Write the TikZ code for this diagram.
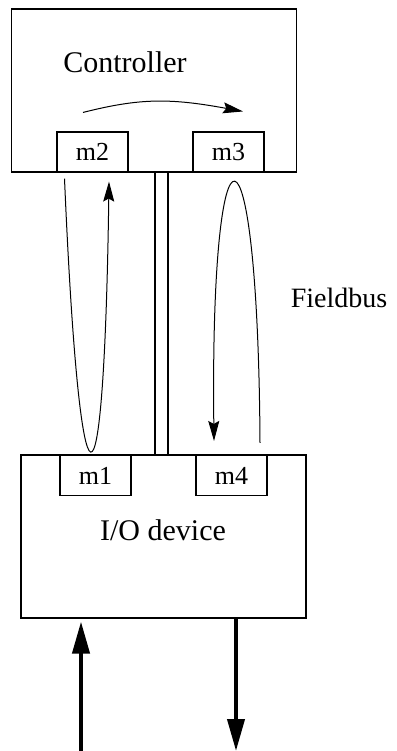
\documentclass[tikz,border=0pt]{standalone}
\usepackage{fontspec}
\setmainfont{Liberation Serif}
\usetikzlibrary{arrows.meta,calc}
\tikzset{>=Stealth}

\begin{document}
\begin{tikzpicture}[x=1pt,y=-1pt]
  \tikzset{
    unitbox/.style={rectangle, draw, line width=1.1pt,
      minimum width=285pt, minimum height=163pt},
    msgbox/.style={rectangle, draw, line width=1.1pt,
      minimum width=71pt, minimum height=40pt,
      font=\fontsize{26}{30}\selectfont},
    lbl/.style={font=\fontsize{30}{36}\selectfont},
    flow/.style={line width=1pt, -{Stealth[length=20pt,width=11pt,inset=3pt]}},
    signal/.style={line width=4pt, -{Triangle[length=32pt,width=17pt]}}
  }
  \useasboundingbox (0,0) rectangle (396,751);

  % controller and I/O device
  \node[unitbox] (ctrl) at (154,90.5) {};
  \node[unitbox] (io) at (163.5,536.5) {};
  \node[lbl] (ctrltext) at (125,62) {Controller};
  \node[lbl] (iotext) at (163,530) {I/O device};

  % message buffers
  \node[msgbox] (m2) at (92.5,152) {m2};
  \node[msgbox] (m3) at (228.5,152) {m3};
  \node[msgbox] (m1) at (95.5,475.5) {m1};
  \node[msgbox] (m4) at (231.5,475.5) {m4};

  % fieldbus
  \coordinate (busl) at (155,300);
  \coordinate (busr) at (168,300);
  \draw[line width=1.1pt] (ctrl.south -| busl) -- (io.north -| busl);
  \draw[line width=1.1pt] (ctrl.south -| busr) -- (io.north -| busr);
  \node[lbl, font=\fontsize{28}{34}\selectfont] (bustext) at (339,298) {Fieldbus};

  % message flow
  \draw[flow] ($(m2.south)+(-28,6)$) .. controls (80,540) and (104,540)
    .. ($(m2.south)+(16.5,9)$);
  \draw[flow] ($(m4.north)+(28.5,-12)$) .. controls (258,97) and (210,97)
    .. ($(m4.north)+(-17.5,-14)$);
  \draw[flow] ($(m2.north)+(-9.5,-19)$) .. controls (140,98) and (170,98)
    .. ($(m3.north)+(14.5,-20)$);

  % process signals
  \coordinate (sigin) at (81,751);
  \coordinate (sigout) at (236,751);
  \draw[signal] (sigin) -- ($(io.south -| sigin)+(0,3)$);
  \draw[signal] (io.south -| sigout) -- (sigout);
\end{tikzpicture}
\end{document}
